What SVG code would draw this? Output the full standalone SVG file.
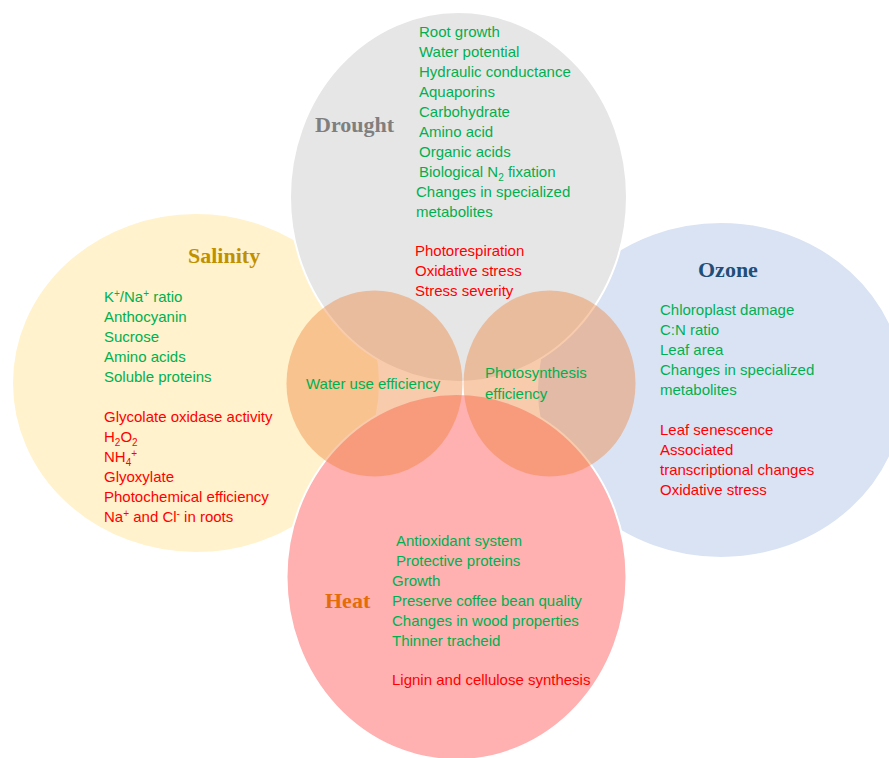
<svg xmlns="http://www.w3.org/2000/svg" width="889" height="758" viewBox="0 0 889 758">
<style>
.big{stroke:#ffffff;stroke-width:2}
.small{fill:#ed7d31;fill-opacity:0.4}
text{font-family:"Liberation Sans",Arial,sans-serif;font-size:15px}
.g{fill:#00b050}
.r{fill:#ff0000}
.title{font-family:"Liberation Serif","Times New Roman",serif;font-weight:bold;font-size:22px}
.sup{font-size:10px}
</style>
<rect width="889" height="758" fill="#ffffff"/>
<g id="salinity">
<ellipse class="big" cx="196" cy="383" rx="184" ry="170" fill="#fff2cc"/>
<text class="title" x="188" y="263" fill="#bf9000">Salinity</text>
<text class="g" x="104" y="302">K<tspan class="sup" dy="-5">+</tspan><tspan dy="5">/Na</tspan><tspan class="sup" dy="-5">+</tspan><tspan dy="5"> ratio</tspan></text>
<text class="g" x="104" y="322">Anthocyanin</text>
<text class="g" x="104" y="342">Sucrose</text>
<text class="g" x="104" y="362">Amino acids</text>
<text class="g" x="104" y="382">Soluble proteins</text>
<text class="r" x="104" y="422">Glycolate oxidase activity</text>
<text class="r" x="104" y="442">H<tspan class="sup" dy="4">2</tspan><tspan dy="-4">O</tspan><tspan class="sup" dy="4">2</tspan></text>
<text class="r" x="104" y="462">NH<tspan class="sup" dy="4">4</tspan><tspan class="sup" dy="-9">+</tspan></text>
<text class="r" x="104" y="482">Glyoxylate</text>
<text class="r" x="104" y="502">Photochemical efficiency</text>
<text class="r" x="104" y="522">Na<tspan class="sup" dy="-5">+</tspan><tspan dy="5"> and Cl</tspan><tspan class="sup" dy="-5">-</tspan><tspan dy="5"> in roots</tspan></text>
</g>
<g id="ozone">
<ellipse class="big" cx="721" cy="390" rx="184" ry="168" fill="#dae3f3"/>
<text class="title" x="698" y="277" fill="#1f4e79">Ozone</text>
<text class="g" x="660" y="315">Chloroplast damage</text>
<text class="g" x="660" y="335">C:N ratio</text>
<text class="g" x="660" y="355">Leaf area</text>
<text class="g" x="660" y="375">Changes in specialized</text>
<text class="g" x="660" y="395">metabolites</text>
<text class="r" x="660" y="435">Leaf senescence</text>
<text class="r" x="660" y="455">Associated</text>
<text class="r" x="660" y="475">transcriptional changes</text>
<text class="r" x="660" y="495">Oxidative stress</text>
</g>
<g id="drought">
<ellipse class="big" cx="458.5" cy="197" rx="168.5" ry="185" fill="#e7e6e6"/>
<text class="title" x="315" y="132" fill="#7f7f7f">Drought</text>
<text class="g" x="419" y="37">Root growth</text>
<text class="g" x="419" y="57">Water potential</text>
<text class="g" x="419" y="77">Hydraulic conductance</text>
<text class="g" x="419" y="97">Aquaporins</text>
<text class="g" x="419" y="117">Carbohydrate</text>
<text class="g" x="419" y="137">Amino acid</text>
<text class="g" x="419" y="157">Organic acids</text>
<text class="g" x="419" y="177">Biological N<tspan class="sup" dy="4">2</tspan><tspan dy="-4"> fixation</tspan></text>
<text class="g" x="416" y="197">Changes in specialized</text>
<text class="g" x="416" y="217">metabolites</text>
<text class="r" x="415" y="256">Photorespiration</text>
<text class="r" x="415" y="276">Oxidative stress</text>
<text class="r" x="415" y="296">Stress severity</text>
</g>
<g id="heat">
<ellipse class="big" cx="456.5" cy="577" rx="170" ry="183" fill="#ffb0b0"/>
<text class="title" x="325" y="608" fill="#e36c09">Heat</text>
<text class="g" x="396" y="546">Antioxidant system</text>
<text class="g" x="396" y="566">Protective proteins</text>
<text class="g" x="392" y="586">Growth</text>
<text class="g" x="392" y="606">Preserve coffee bean quality</text>
<text class="g" x="392" y="626">Changes in wood properties</text>
<text class="g" x="392" y="646">Thinner tracheid</text>
<text class="r" x="392" y="685">Lignin and cellulose synthesis</text>
</g>
<g id="water-use-efficiency">
<ellipse class="small" cx="374.5" cy="383.5" rx="88" ry="93"/>
<text class="g" x="306" y="389">Water use efficiency</text>
</g>
<g id="photosynthesis-efficiency">
<ellipse class="small" cx="549.5" cy="383.5" rx="86" ry="93"/>
<text class="g" x="485" y="378">Photosynthesis</text>
<text class="g" x="485" y="399">efficiency</text>
</g>
<g id="connectors"></g>
</svg>
